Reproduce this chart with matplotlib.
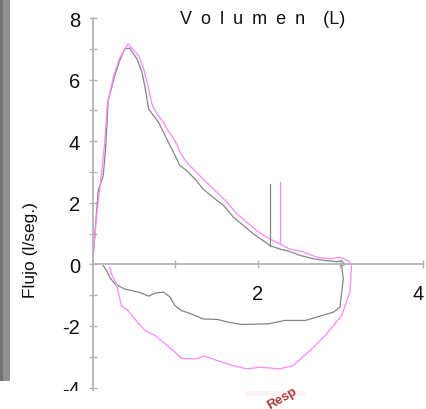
import matplotlib
matplotlib.use("Agg")
import matplotlib.pyplot as plt
from matplotlib.patches import Rectangle
from matplotlib.transforms import ScaledTranslation

# ---- data (volume L, flow l/s) ----
gray_exp_vol = [0.00, 0.07, 0.13, 0.16, 0.19, 0.27, 0.33, 0.39, 0.45, 0.54, 0.60, 0.64, 0.68, 0.74,
                0.80, 0.86, 0.90, 0.94, 1.06, 1.14, 1.24, 1.34, 1.46, 1.59, 1.71, 1.83, 1.95, 2.07,
                2.15, 2.27, 2.39, 2.52, 2.68, 2.84, 2.96, 3.02, 3.04, 3.06]
gray_exp_flow = [0.00, 2.40, 2.88, 3.81, 5.32, 6.13, 6.62, 7.00, 7.02, 6.67, 6.24, 5.70, 5.05, 4.83,
                 4.62, 4.29, 4.07, 3.86, 3.21, 3.05, 2.78, 2.45, 2.18, 1.91, 1.53, 1.26, 0.99, 0.77,
                 0.61, 0.50, 0.42, 0.29, 0.18, 0.12, 0.09, 0.12, 0.05, 0.00]

pink_exp_vol = [0.00, 0.05, 0.09, 0.15, 0.18, 0.26, 0.33, 0.43, 0.56, 0.62, 0.68, 0.72, 0.78, 0.86,
                0.90, 0.96, 1.02, 1.06, 1.14, 1.26, 1.38, 1.51, 1.63, 1.75, 1.87, 1.99, 2.11, 2.27,
                2.39, 2.56, 2.72, 2.88, 3.00, 3.10, 3.13]
pink_exp_flow = [0.00, 1.60, 2.50, 4.00, 5.21, 6.15, 6.70, 7.16, 6.78, 6.35, 5.70, 5.21, 4.89, 4.62,
                 4.40, 4.18, 3.91, 3.64, 3.32, 2.99, 2.67, 2.34, 2.02, 1.64, 1.37, 1.10, 0.88, 0.67,
                 0.50, 0.40, 0.23, 0.18, 0.23, 0.12, 0.00]

gray_insp_vol = [0.13, 0.17, 0.21, 0.27, 0.39, 0.56, 0.68, 0.76, 0.86, 0.94, 1.00, 1.08, 1.20, 1.34,
                 1.52, 1.65, 1.81, 2.13, 2.33, 2.58, 2.78, 2.92, 3.00, 3.04, 3.02, 3.06]
gray_insp_flow = [-0.04, -0.20, -0.42, -0.63, -0.80, -0.90, -1.03, -0.93, -0.90, -1.06, -1.34, -1.50,
                  -1.61, -1.77, -1.79, -1.88, -1.95, -1.93, -1.82, -1.82, -1.66, -1.55, -1.39, -0.47,
                  -0.04, 0.00]

pink_insp_vol = [0.21, 0.23, 0.29, 0.35, 0.43, 0.56, 0.64, 0.76, 0.88, 1.00, 1.08, 1.24, 1.36, 1.51,
                 1.71, 1.87, 2.03, 2.27, 2.43, 2.52, 2.66, 2.82, 3.02, 3.12, 3.14]
pink_insp_flow = [-0.09, -0.31, -0.63, -1.34, -1.50, -1.93, -2.15, -2.31, -2.58, -2.85, -3.05, -3.07,
                  -2.98, -3.12, -3.29, -3.39, -3.34, -3.39, -3.29, -3.07, -2.74, -2.31, -1.66, -0.90,
                  -0.04]

gray_marker_vol = [2.15, 2.15]
gray_marker_flow = [0.61, 2.61]
pink_marker_vol = [2.27, 2.27]
pink_marker_flow = [0.67, 2.67]

y_major = [-4, -2, 0, 2, 4, 6, 8]
y_minor = [-3, -1, 1, 3, 5, 7]
x_major = [2, 4]
x_minor = [1, 3]

title_chars = ["V", "o", "l", "u", "m", "e", "n"]
title_unit = "(L)"

GRAY = "#858585"
PINK = "#ff85ff"
AXC = "#b4b4b4"

plt.rcParams['font.family'] = ['Liberation Sans', 'DejaVu Sans']

W, H = 426, 410
fig = plt.figure(figsize=(W / 100, H / 100), dpi=100)
fig.patch.set_facecolor("white")

# axes: x 0..4 -> px 92.5..422.5 ; y 8..-4.3 -> px 19..397.8
left = 92.5 / W
width = 330 / W
top_px, ymin = 19, -4.3
bot_px = top_px + (8 - ymin) * 30.8
ax = fig.add_axes([left, 1 - bot_px / H, width, (bot_px - top_px) / H])
ax.set_xlim(0, 4)
ax.set_ylim(ymin, 8)

for s in ["top", "right"]:
    ax.spines[s].set_visible(False)
ax.spines["left"].set_position(("data", 0))
ax.spines["bottom"].set_position(("data", 0))
ax.spines["left"].set_bounds(ymin, 8)
ax.spines["bottom"].set_bounds(0, 4)
for s in ["left", "bottom"]:
    ax.spines[s].set_color(AXC)
    ax.spines[s].set_linewidth(1.3)

ax.set_yticks(y_major)
ax.set_yticks(y_minor, minor=True)
ax.set_xticks(x_major)
ax.set_xticks(x_minor, minor=True)
ax.set_yticklabels([str(v) for v in y_major])
ax.set_xticklabels([str(v) for v in x_major])
ax.tick_params(axis="both", which="both", direction="inout", length=6, width=1.0, color=AXC,
               labelsize=14.5, labelcolor="#111111")
ax.tick_params(axis="y", which="major", pad=6)
ax.tick_params(axis="x", which="major", pad=11)
# the last x label sits slightly left of its tick, at the image edge
lbl = ax.get_xticklabels()[-1]
lbl.set_transform(lbl.get_transform() + ScaledTranslation(-4 / 100, 0, fig.dpi_scale_trans))

lw = 0.9
ax.plot(gray_exp_vol, gray_exp_flow, color=GRAY, lw=lw, clip_on=False)
ax.plot(pink_exp_vol, pink_exp_flow, color=PINK, lw=lw, clip_on=False)
ax.plot(gray_insp_vol, gray_insp_flow, color=GRAY, lw=lw, clip_on=False)
ax.plot(pink_insp_vol, pink_insp_flow, color=PINK, lw=lw, clip_on=False)
ax.plot(gray_marker_vol, gray_marker_flow, color=GRAY, lw=lw)
ax.plot(pink_marker_vol, pink_marker_flow, color=PINK, lw=lw)

fig.text(30 / W, 1 - 250 / H, "Flujo (l/seg.)", rotation=90, ha="center", va="center",
         fontsize=12.5, color="#111111")
title = "\u2002".join(title_chars) + "\u2002\u2002" + title_unit
fig.text(180 / W, 1 - 20 / H, title, ha="left", va="center",
         fontsize=13, color="#111111")

# scanned strip on left edge
fig.patches.append(Rectangle((0, 1 - 382 / H), 10 / W, 382 / H, transform=fig.transFigure,
                             facecolor="#8e938e", edgecolor="none", zorder=5))
fig.patches.append(Rectangle((0, 1 - 382 / H), 3 / W, 382 / H, transform=fig.transFigure,
                             facecolor="#6f746f", edgecolor="none", zorder=5))
# cropped bottom band
fig.patches.append(Rectangle((0, 0), 1, 1 - 392 / H, transform=fig.transFigure,
                             facecolor="white", edgecolor="none", zorder=10))
fig.patches.append(Rectangle((245 / W, 1 - 397 / H), 60 / W, 5 / H, transform=fig.transFigure,
                             facecolor="#fdf1f3", edgecolor="none", zorder=10))
fig.text(282 / W, 1 - 399 / H, "Resp", rotation=30, ha="center", va="center", fontsize=9.5,
         fontweight="bold", color="#a83a3a", zorder=11)

fig.savefig("out.png", dpi=100, facecolor="white")
